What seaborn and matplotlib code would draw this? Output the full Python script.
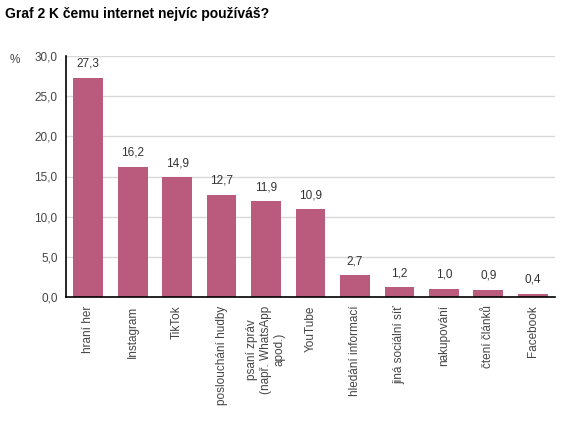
import matplotlib
matplotlib.use("Agg")
import matplotlib.pyplot as plt
import seaborn as sns
import pandas as pd

# data
categories = ["hraní her", "Instagram", "TikTok", "poslouchání hudby",
              "psaní zpráv\n(např. WhatsApp\napod.)", "YouTube",
              "hledání informací", "jiná sociální síť", "nakupování",
              "čtení článků", "Facebook"]
values = [27.3, 16.2, 14.9, 12.7, 11.9, 10.9, 2.7, 1.2, 1.0, 0.9, 0.4]
yticks = [0, 5, 10, 15, 20, 25, 30]

df = pd.DataFrame({"cat": categories, "val": values})

sns.set_theme(style="white")
plt.rcParams["font.family"] = ["Liberation Sans", "DejaVu Sans"]

fig = plt.figure(figsize=(5.77, 4.21), dpi=100)
ax = fig.add_axes([66 / 577, 1 - 297 / 421, (555 - 66) / 577, (297 - 56) / 421])

bar_color = "#BA5B7E"
sns.barplot(data=df, x="cat", y="val", color=bar_color, width=0.67,
            saturation=1, linewidth=0, edgecolor=bar_color, ax=ax, zorder=2)

ax.set_xlim(-0.5, len(categories) - 0.5)
ax.set_ylim(0, 30)
ax.set_yticks(yticks)
ax.set_yticklabels([f"{t:.1f}".replace(".", ",") for t in yticks],
                   fontsize=8.5, color="#444444")
ax.yaxis.grid(True, color="#d9d9d9", linewidth=1, zorder=0)
ax.set_axisbelow(True)

ax.set_xticks(range(len(categories)))
ax.set_xticklabels(categories, rotation=90, fontsize=8.5, color="#444444",
                   va="top", ha="center", multialignment="center")
ax.tick_params(axis="x", length=0, pad=6)
ax.tick_params(axis="y", length=0, pad=6)
ax.set_xlabel("")
ax.set_ylabel("")

for s in ["top", "right"]:
    ax.spines[s].set_visible(False)
for s in ["left", "bottom"]:
    ax.spines[s].set_color("black")
    ax.spines[s].set_linewidth(1.2)
    ax.spines[s].set_zorder(5)

for i, v in enumerate(values):
    ax.text(i, v + 1.0, f"{v:.1f}".replace(".", ","), ha="center", va="bottom",
            fontsize=8.5, color="#333333")

fig.text(15 / 577, 1 - 60 / 421, "%", fontsize=8.5, color="#444444",
         ha="center", va="center")
fig.text(5 / 577, 1 - 14 / 421, "Graf 2 K čemu internet nejvíc používáš?",
         fontsize=10, fontweight="bold", color="black", ha="left", va="center")

fig.savefig("out.png", dpi=100)
